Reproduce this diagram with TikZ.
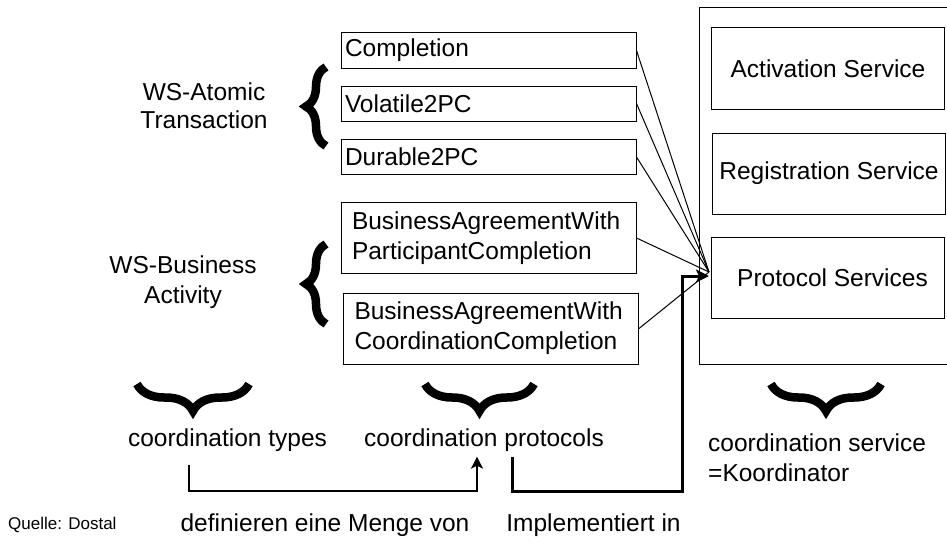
\documentclass[tikz,border=0pt]{standalone}
\usepackage{fontspec}
\setmainfont{Liberation Sans}
\usepackage{xcolor}
\usepackage{tikz}
\usetikzlibrary{calc}
\usetikzlibrary{arrows.meta}
\usetikzlibrary{decorations.pathreplacing}
\tikzstyle{protnode}=[black, draw=black, line width=1pt, shape=rectangle, minimum height=35pt, inner xsep=4pt, inner ysep=0pt, text width=287pt, align=left, font=\fontsize{24.5}{30}\selectfont]
\tikzstyle{banode}=[protnode, minimum height=71pt, inner xsep=11pt, text width=273pt]
\tikzstyle{svcnode}=[black, draw=black, line width=1pt, shape=rectangle, minimum width=233pt, minimum height=81pt, align=center, font=\fontsize{24.5}{30}\selectfont]
\tikzstyle{labelnode}=[black, inner sep=0pt, align=center, font=\fontsize{24.5}{30}\selectfont]
\tikzstyle{bigbrace}=[black, decorate, line width=8.5pt]
\tikzstyle{thinlink}=[black, line width=1pt]

\begin{document}
\begin{tikzpicture}[x=1pt, y=-1pt]
\useasboundingbox (0,0) rectangle (947,543);

% protocol boxes
\node [protnode] (compl) at (488.5,50.5) {Completion};
\node [protnode] (volat) at (488.5,103.5) {Volatile2PC};
\node [protnode] (durab) at (488.5,157) {Durable2PC};
\node [banode] (bawpc) at (488.5,238) {BusinessAgreementWith\\ParticipantCompletion};
\node [banode] (bawcc) at (491,328.5) {BusinessAgreementWith\\CoordinationCompletion};

% coordinator
\draw [line width=1pt] (950,8) -| (699,364) -- (950,364);
\node [svcnode] (act) at (828,68.5) {Activation Service};
\node [svcnode] (reg) at (829,173.5) {Registration Service};
\node [svcnode] (prot) at (827.5,278) {\hspace*{10pt}Protocol Services};

% coordination types
\node [labelnode, font=\fontsize{24.5}{28}\selectfont] (wsat) at (204,106) {WS-Atomic\\Transaction};
\node [labelnode] (wsba) at (183,282) {WS-Business\\Activity};
\draw [bigbrace, decoration={brace, amplitude=20pt}] (326,146) -- (326,67);
\draw [bigbrace, decoration={brace, amplitude=20pt}] (326,324) -- (326,244);

% bottom braces and labels
\draw [bigbrace, decoration={brace, amplitude=27pt}] (249,384) -- (137,384);
\draw [bigbrace, decoration={brace, amplitude=27pt}] (534,384) -- (425,384);
\draw [bigbrace, decoration={brace, amplitude=27pt}] (881,384) -- (771,384);
\node [labelnode] (ctypes) at (227.5,440) {coordination types};
\node [labelnode] (cprot) at (484,440) {coordination protocols};
\node [labelnode, align=left, anchor=west] (csvc) at (708,458) {coordination service\\=Koordinator};

\node [labelnode] (defin) at (325,525) {definieren eine Menge von};
\node [labelnode] (implin) at (593.5,525) {Implementiert in};
\node [labelnode, anchor=west, font=\fontsize{17}{20}\selectfont] (quelle) at (8,525) {Quelle: Dostal};

\coordinate (hub) at (709,272);
\coordinate (defstart) at ([xshift=-38.5pt, yshift=-13pt]ctypes.south);
\coordinate (deftip) at ([xshift=-7pt, yshift=-5pt]cprot.south);
\coordinate (implstart) at ([xshift=28pt, yshift=-5pt]cprot.south);

\draw [thinlink] (compl.east) -- (hub);
\draw [thinlink] (volat.east) -- (hub);
\draw [thinlink] (durab.east) -- (hub);
\draw [thinlink] (bawpc.east) -- (hub);
\draw [thinlink] (bawcc.east) -- (hub);

\draw [-{Stealth[length=13pt, width=13pt, inset=3pt]}, line width=3pt, color=black] (implstart) |- (682,491) |- ([yshift=-4pt]hub);
\draw [-{Stealth[length=12pt, width=12pt, inset=3pt]}, line width=2.2pt, color=black] (defstart) |- ($(deftip)+(0,34)$) -- (deftip);
\end{tikzpicture}
\end{document}
